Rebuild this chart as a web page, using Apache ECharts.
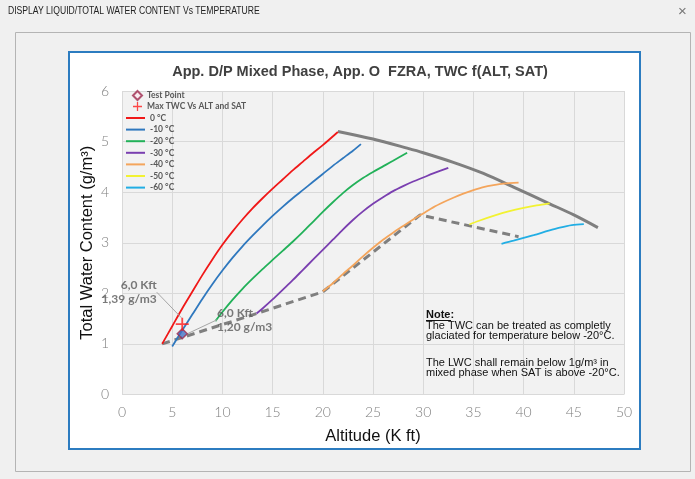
<!DOCTYPE html>
<html><head><meta charset="utf-8">
<script src="https://cdn.jsdelivr.net/npm/echarts@6/dist/echarts.min.js"></script>
<style>html,body{margin:0;padding:0;background:#f0f0f0;overflow:hidden}#c{width:695px;height:479px}</style>
</head><body><div id="c"></div>
<script>
// ---- tick labels ----
const xTicks = [0, 5, 10, 15, 20, 25, 30, 35, 40, 45, 50];
const yTicks = [0, 1, 2, 3, 4, 5, 6];

// ---- curve names / colours ----
const curveNames = ['0 °C', '-10 °C', '-20 °C', '-30 °C', '-40 °C', '-50 °C', '-60 °C'];
const curveColors = ['#f01818', '#2f78be', '#22b159', '#7a3fb0', '#f4a55c', '#f2f232', '#22aee4'];

// ---- TWC curves [altitude Kft, g/m3] ----
const sat0 = [[4,1.0],[5,1.35],[6,1.7],[7,2.03],[8,2.36],[9,2.67],[10,2.96],[11,3.22],[12,3.46],[13,3.68],[14,3.88],[15,4.07],[16,4.25],[17,4.43],[18,4.6],[19,4.77],[20,4.93],[21.5,5.19]];
const satM10 = [[5,0.95],[6,1.27],[7,1.58],[8,1.89],[9,2.18],[10,2.45],[11,2.7],[12,2.93],[13,3.14],[14,3.34],[15,3.53],[16,3.71],[17,3.88],[18,4.04],[19,4.2],[20,4.36],[21,4.52],[22,4.67],[23,4.82],[23.8,4.95]];
const satM20 = [[9.3,1.45],[10,1.63],[11,1.87],[12,2.09],[13,2.29],[14,2.48],[15,2.66],[16,2.84],[17,3.02],[18,3.21],[19,3.41],[20,3.61],[21,3.8],[22,3.98],[23,4.14],[24,4.28],[25,4.4],[26,4.51],[27,4.62],[28.4,4.78]];
const satM30 = [[13.4,1.6],[14,1.7],[15,1.88],[16,2.07],[17,2.26],[18,2.46],[19,2.66],[20,2.86],[21,3.06],[22,3.26],[23,3.45],[24,3.62],[25,3.77],[26,3.9],[27,4.02],[28,4.12],[29,4.21],[30,4.29],[31,4.37],[32.5,4.48]];
const satM40 = [[20,2.04],[21,2.2],[22,2.38],[23,2.55],[24,2.73],[25,2.9],[26,3.06],[27,3.2],[28,3.33],[29,3.46],[30,3.58],[31,3.7],[32,3.8],[33,3.89],[34,3.97],[35,4.04],[36,4.1],[37,4.14],[38,4.17],[39.5,4.19]];
const satM50 = [[34.6,3.36],[35.5,3.43],[37.3,3.55],[38.5,3.62],[40,3.69],[41.3,3.74],[42.6,3.78]];
const satM60 = [[37.8,2.98],[39,3.04],[41,3.15],[42.5,3.24],[43.6,3.3],[44.8,3.35],[46,3.37]];
const curves = [sat0, satM10, satM20, satM30, satM40, satM50, satM60];

// ---- envelopes ----
const maxEnvelope = [[21.5,5.2],[25,5.05],[28.4,4.87],[30,4.78],[33,4.59],[36,4.37],[39,4.1],[42.6,3.77],[45,3.55],[47.4,3.3]];
const lowerBoundary = [[4,1.0],[13.4,1.6],[20,2.03],[29.7,3.55],[39.5,3.12]];

// ---- points ----
const testPoint = [[6, 1.2]];
const maxPoint = [[6, 1.39]];

const fmtPt = p => p.value[0].toFixed(1).replace('.', ',') + ' Kft\n' + p.value[1].toFixed(2).replace('.', ',') + ' g/m3';
const plusPath = 'path://M4.3,0h1.4v4.3h4.3v1.4h-4.3v4.3h-1.4v-4.3h-4.3v-1.4h4.3z';

const chart = echarts.init(document.getElementById('c'), null, {renderer: 'canvas'});

const series = [];
series.push({
  name: '__max', type: 'line', data: maxEnvelope, smooth: 0.3, symbol: 'none',
  lineStyle: {color: '#7f7f7f', width: 3}, z: 3, silent: true
});
series.push({
  name: '__low', type: 'line', data: lowerBoundary, smooth: false, symbol: 'none',
  lineStyle: {color: '#7f7f7f', width: 3, type: [8, 5]}, z: 3, silent: true
});
curves.forEach((d, i) => {
  series.push({
    name: curveNames[i], type: 'line', data: d, smooth: 0.3, symbol: 'none',
    lineStyle: {color: curveColors[i], width: 1.8}, itemStyle: {color: curveColors[i]}, z: 4
  });
});
series.push({
  name: 'Test Point', type: 'scatter', data: testPoint, symbol: 'diamond', symbolSize: 10,
  itemStyle: {color: '#4472c4', borderColor: '#9e2a4f', borderWidth: 1.5}, z: 6,
  label: {show: true, position: 'right', formatter: fmtPt, fontFamily: 'Lato', fontWeight: 'bold',
    fontSize: 12, color: '#595959', align: 'left', lineHeight: 14},
  labelLayout: {dx: 24, dy: -14},
  labelLine: {show: true, lineStyle: {color: '#a6a6a6', width: 1}}
});
series.push({
  name: 'Max TWC Vs ALT and SAT', type: 'scatter', data: maxPoint, symbol: plusPath, symbolSize: 13,
  itemStyle: {color: '#ff1a1a'}, z: 6,
  label: {show: true, position: 'left', formatter: fmtPt, fontFamily: 'Lato', fontWeight: 'bold',
    fontSize: 12, color: '#595959', align: 'right', lineHeight: 14},
  labelLayout: {dx: -14, dy: -32},
  labelLine: {show: true, lineStyle: {color: '#a6a6a6', width: 1}}
});

const legendText = {fontFamily: 'Lato', fontWeight: 'bold', fontSize: 8.5, color: '#595959', lineHeight: 8};
const noteStyle = {fontFamily: 'Liberation Sans', fontSize: 10, lineHeight: 10.4, fill: '#111', verticalAlign: 'top'};

chart.setOption({
  backgroundColor: '#f0f0f0',
  animation: false,
  title: {
    text: 'App. D/P Mixed Phase, App. O  FZRA, TWC f(ALT, SAT)',
    left: 355, top: 59, textAlign: 'center',
    textStyle: {fontFamily: 'Liberation Sans', fontWeight: 'bold', fontSize: 14.5, color: '#404040'}
  },
  graphic: [
    {type: 'text', x: 8, y: 6, scaleX: 0.86, z: -5, style: {text: 'DISPLAY LIQUID/TOTAL WATER CONTENT Vs TEMPERATURE', fontFamily: 'Liberation Sans', fontSize: 10, fill: '#222'}},
    {type: 'text', left: 678, top: 4, z: -5, style: {text: '×', fontFamily: 'Liberation Sans', fontSize: 15, fill: '#777'}},
    {type: 'rect', shape: {x: 15.5, y: 32.5, width: 675, height: 439}, z: -20, style: {fill: '#f0f0f0', stroke: '#b4b4b4', lineWidth: 1}},
    {type: 'rect', shape: {x: 69, y: 52, width: 571, height: 397}, z: -10, style: {fill: '#ffffff', stroke: '#2c7cc0', lineWidth: 2}},
    {type: 'text', x: 426, y: 310, scaleX: 1.1, z: 10, style: Object.assign({}, noteStyle, {text: 'Note:', fontWeight: 'bold'})},
    {type: 'line', shape: {x1: 426, y1: 320.5, x2: 451, y2: 320.5}, z: 10, style: {stroke: '#111', lineWidth: 1}},
    {type: 'text', x: 426, y: 321, scaleX: 1.1, z: 10, style: Object.assign({}, noteStyle, {text: 'The TWC can be treated as completly\nglaciated for temperature below -20°C.'})},
    {type: 'text', x: 426, y: 358, scaleX: 1.1, z: 10, style: Object.assign({}, noteStyle, {text: 'The LWC shall remain below 1g/m³ in\nmixed phase when SAT is above -20°C.'})}
  ],
  legend: [
    {
      data: [
        {name: 'Test Point', icon: 'diamond', itemStyle: {color: '#fbe9ef', borderColor: '#9e2a4f', borderWidth: 2}},
        {name: 'Max TWC Vs ALT and SAT', icon: plusPath}
      ],
      orient: 'vertical', left: 132, top: 90, padding: 0,
      itemWidth: 9, itemHeight: 9, itemGap: 1, selectedMode: false, textStyle: legendText
    },
    {
      data: curveNames.map(n => ({name: n, icon: 'rect'})),
      orient: 'vertical', left: 126, top: 113.5, padding: 0,
      itemWidth: 19, itemHeight: 2, itemGap: 2.6, selectedMode: false, textStyle: legendText
    }
  ],
  grid: {left: 122, right: 71, top: 91, bottom: 84.5, show: true, backgroundColor: '#f2f2f2', borderWidth: 0},
  xAxis: {
    type: 'value', min: xTicks[0], max: xTicks[xTicks.length - 1], interval: xTicks[1] - xTicks[0],
    name: 'Altitude (K ft)', nameLocation: 'middle', nameGap: 33, nameMoveOverlap: false,
    nameTextStyle: {fontFamily: 'Liberation Sans', fontSize: 16.5, color: '#111'},
    axisLine: {show: false}, axisTick: {show: false},
    axisLabel: {fontFamily: 'Lato', fontWeight: 300, fontSize: 14, color: '#808080', margin: 11},
    splitLine: {lineStyle: {color: '#d9d9d9', width: 1}}
  },
  yAxis: {
    type: 'value', min: yTicks[0], max: yTicks[yTicks.length - 1], interval: yTicks[1] - yTicks[0],
    name: 'Total Water Content (g/m³)', nameLocation: 'middle', nameGap: 26, nameMoveOverlap: false,
    nameTextStyle: {fontFamily: 'Liberation Sans', fontSize: 16.5, color: '#111'},
    axisLine: {show: false}, axisTick: {show: false},
    axisLabel: {fontFamily: 'Lato', fontWeight: 300, fontSize: 14, color: '#808080', margin: 13},
    splitLine: {lineStyle: {color: '#d9d9d9', width: 1}}
  },
  series: series
});
</script>
</body></html>
